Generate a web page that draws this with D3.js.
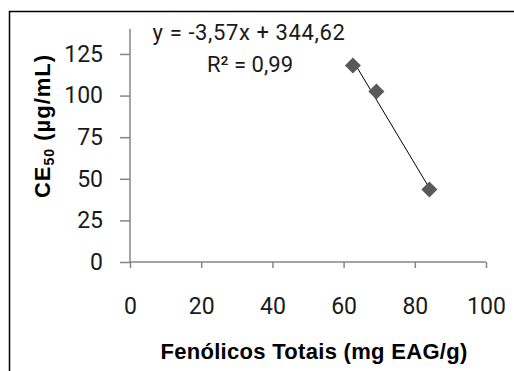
<!DOCTYPE html>
<html>
<head>
<meta charset="utf-8">
<script src="https://cdn.jsdelivr.net/npm/d3@7"></script>
<style>
  body { margin: 0; background: #fff; }
  svg text { font-family: Roboto, "Noto Sans", sans-serif; }
  .title { font-family: "Liberation Sans", Arial, sans-serif !important; font-weight: bold; }
</style>
</head>
<body>
<div id="chart"></div>
<script>
// data
const fenolicos = [62.6, 69.2, 84.1];
const ce50 = [118, 102.5, 43.5];
const xTicks = [0, 20, 40, 60, 80, 100];
const yTicks = [0, 25, 50, 75, 100, 125];
const slope = -3.57;
const intercept = 344.62;
const eqLabel = 'y = -3,57x + 344,62';
const r2Label = 'R² = 0,99';

const width = 514, height = 371;
const margin = { top: 29, right: 28, bottom: 109, left: 130 };

const svg = d3.select('#chart').append('svg')
  .attr('width', width)
  .attr('height', height);

// outer frame
svg.append('rect')
  .attr('x', 9.5).attr('y', 11.5)
  .attr('width', 520).attr('height', 380)
  .attr('fill', 'none')
  .attr('stroke', '#000')
  .attr('stroke-width', 1.5);

const x = d3.scaleLinear().domain([0, 100]).range([margin.left, width - margin.right]);
const y = d3.scaleLinear().domain([0, 140]).range([height - margin.bottom, margin.top]);

const axisColor = '#868686';

// x axis
const gx = svg.append('g')
  .attr('transform', `translate(0,${y(0)})`)
  .call(d3.axisBottom(x).tickValues(xTicks).tickSize(6).tickPadding(30).tickFormat(d3.format('d')));
// y axis
const gy = svg.append('g')
  .attr('transform', `translate(${x(0)},0)`)
  .call(d3.axisLeft(y).tickValues(yTicks).tickSize(10).tickPadding(17).tickFormat(d3.format('d')));

[gx, gy].forEach(g => {
  g.select('.domain').attr('stroke', axisColor).attr('stroke-width', 1.5);
  g.selectAll('.tick line').attr('stroke', axisColor).attr('stroke-width', 1.5);
  g.selectAll('.tick text')
    .attr('fill', '#1a1a1a')
    .style('font-size', '23px');
});
gx.select('.domain').attr('d', `M${x(0)},0H${x(100)}`);
gy.select('.domain').attr('d', `M0,${y(140)}V${y(0)}`);

// trend line
const xMin = d3.min(fenolicos), xMax = d3.max(fenolicos);
svg.append('line')
  .attr('x1', x(xMin)).attr('y1', y(slope * xMin + intercept))
  .attr('x2', x(xMax)).attr('y2', y(slope * xMax + intercept))
  .attr('stroke', '#000')
  .attr('stroke-width', 1);

// markers
svg.append('g').selectAll('path')
  .data(fenolicos.map((v, i) => [v, ce50[i]]))
  .join('path')
  .attr('transform', d => `translate(${x(d[0])},${y(d[1])})`)
  .attr('d', 'M0,-8L8,0L0,8L-8,0Z')
  .attr('fill', '#595959');

// equation
svg.append('text')
  .attr('x', 249).attr('y', 40)
  .attr('text-anchor', 'middle')
  .attr('fill', '#1a1a1a')
  .style('font-size', '22px')
  .style('letter-spacing', '0.6px')
  .text(eqLabel);
svg.append('text')
  .attr('x', 250).attr('y', 72)
  .attr('text-anchor', 'middle')
  .attr('fill', '#1a1a1a')
  .style('font-size', '22px')
  .text(r2Label);

// axis titles
svg.append('text')
  .attr('class', 'title')
  .attr('x', 314).attr('y', 359)
  .attr('text-anchor', 'middle')
  .style('font-size', '22px')
  .style('letter-spacing', '0.3px')
  .text('Fenólicos Totais (mg EAG/g)');

const yt = svg.append('text')
  .attr('class', 'title')
  .attr('transform', 'translate(50,126) rotate(-90)')
  .attr('text-anchor', 'middle')
  .style('font-size', '22px')
  .style('letter-spacing', '1px');
yt.append('tspan').text('CE');
yt.append('tspan').attr('dy', 4).style('font-size', '14px').text('50');
yt.append('tspan').attr('dy', -4).text(' (µg/mL)');
</script>
</body>
</html>
